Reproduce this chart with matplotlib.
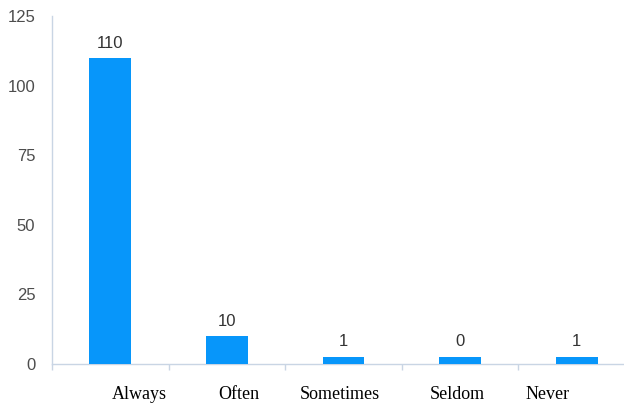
import matplotlib
matplotlib.use("Agg")
import matplotlib.pyplot as plt
import numpy as np

categories = ["Always", "Often", "Sometimes", "Seldom", "Never"]
values = [110, 10, 1, 0, 1]
y_ticks = [0, 25, 50, 75, 100, 125]

# layout / style constants
label_offsets = [0.25, 0.10, -0.03, -0.02, -0.25]
min_visible = 2.5
bar_color = "#0796FA"
axis_color = "#C9D5E4"

fig = plt.figure(figsize=(6.24, 4.05), dpi=100)
ax = fig.add_axes([52/624, 41/405, 583/624, 347.5/405])

x = np.arange(len(categories))
heights = np.maximum(np.array(values, dtype=float), min_visible)
ax.bar(x, heights, width=0.36, color=bar_color, zorder=3)

for xi, h, v in zip(x, heights, values):
    ax.annotate(str(v), (xi, h), xytext=(0, 5.5), textcoords="offset points",
                ha="center", va="bottom", fontsize=12,
                family="Liberation Sans", color="#333333")

ax.set_xlim(-0.5, len(categories) - 0.5)
ax.set_ylim(0, 125)
ax.set_yticks(y_ticks)
ax.set_yticklabels([str(t) for t in y_ticks], fontsize=12,
                   family="Liberation Sans", color="#4D4D4D")
ax.tick_params(axis="y", length=0, pad=12)

ax.set_xticks([])
ax.set_xticks(np.arange(-0.5, len(categories)), minor=True)
ax.tick_params(axis="x", which="minor", length=4, width=1, color=axis_color)

for i, c in enumerate(categories):
    ax.text(i + label_offsets[i], -0.088, c, transform=ax.get_xaxis_transform(),
            ha="center", va="center", fontsize=13, family="Liberation Serif",
            color="#000000")

for s in ["top", "right"]:
    ax.spines[s].set_visible(False)
for s in ["left", "bottom"]:
    ax.spines[s].set_color(axis_color)
    ax.spines[s].set_linewidth(1)

fig.savefig("out.png", dpi=100)
